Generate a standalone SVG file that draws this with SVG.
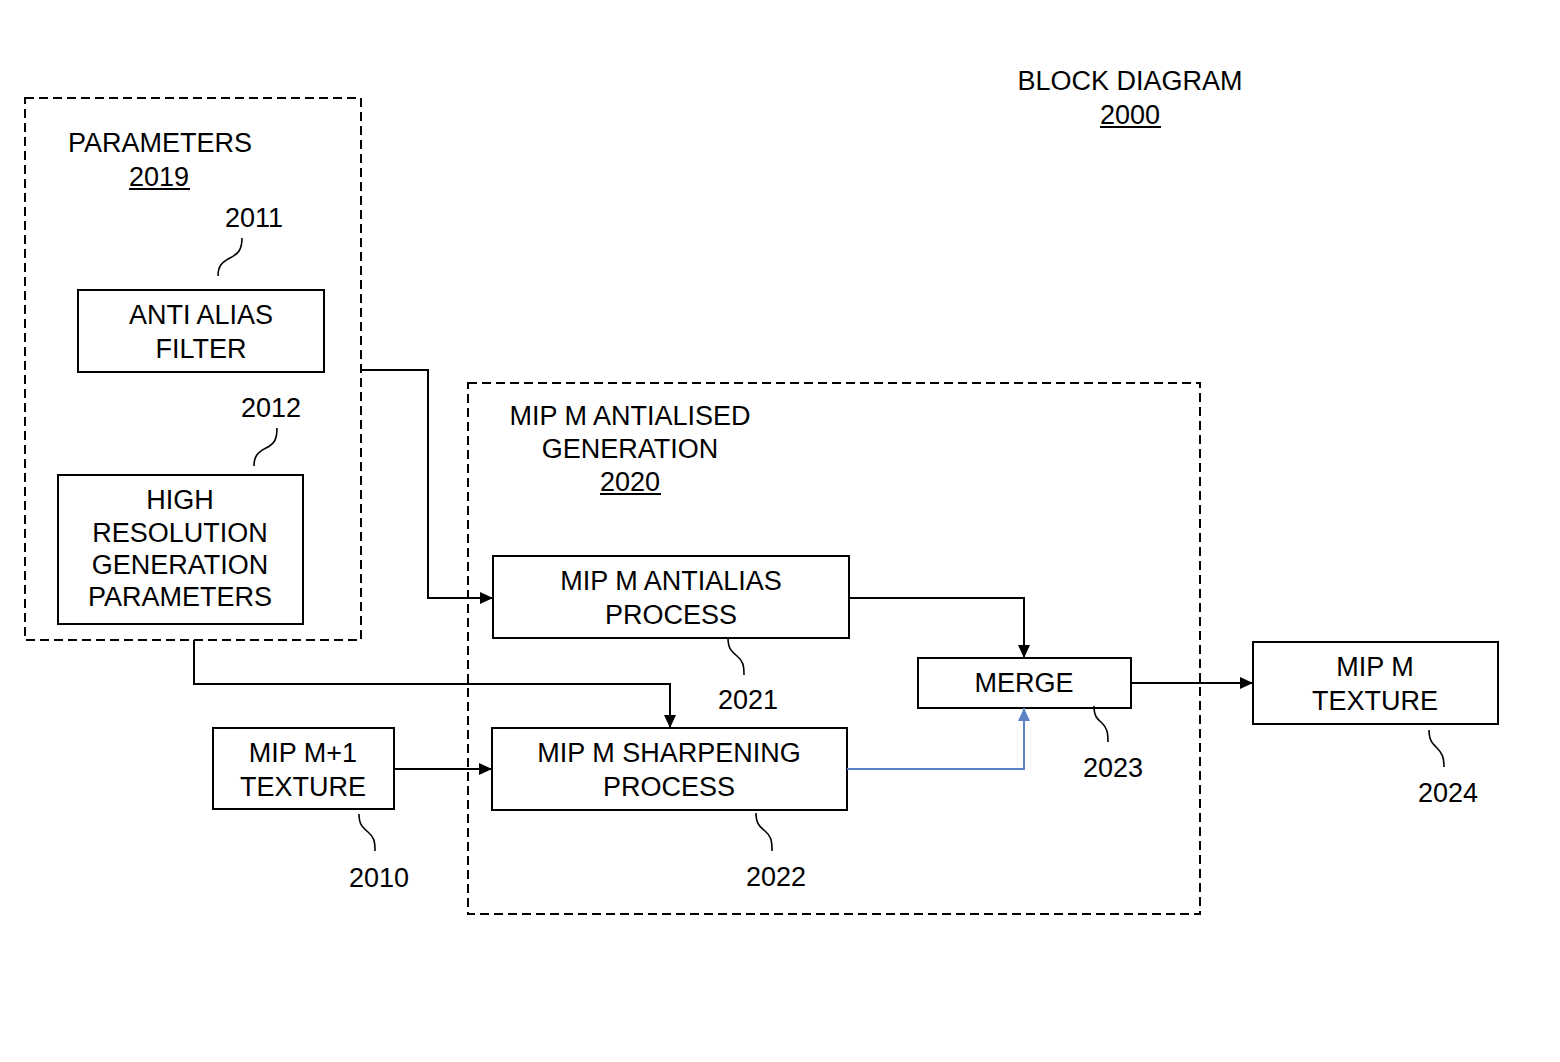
<svg xmlns="http://www.w3.org/2000/svg" width="1560" height="1062" viewBox="0 0 1560 1062">
<defs>
<style>
text{font-family:"Liberation Sans",Arial,sans-serif;font-size:27px;fill:#000;text-anchor:middle}
.box{fill:#fff;stroke:#000;stroke-width:2}
.dash{fill:none;stroke:#000;stroke-width:2;stroke-dasharray:9 5}
.wire{fill:none;stroke:#000;stroke-width:2}
.blue{fill:none;stroke:#5b82c4;stroke-width:2}
.sq{fill:none;stroke:#000;stroke-width:1.6}
.ul{stroke:#000;stroke-width:2}
</style>
<marker id="ah" markerWidth="13" markerHeight="12" refX="13" refY="6" orient="auto" markerUnits="userSpaceOnUse" viewBox="0 0 13 12"><path d="M0,0 L13,6 L0,12 Z" fill="#000"/></marker>
<marker id="ahb" markerWidth="13" markerHeight="12" refX="13" refY="6" orient="auto" markerUnits="userSpaceOnUse" viewBox="0 0 13 12"><path d="M0,0 L13,6 L0,12 Z" fill="#5b82c4"/></marker>
</defs>
<rect width="1560" height="1062" fill="#fff"/>

<g id="title">
<text x="1130" y="90">BLOCK DIAGRAM</text>
<text x="1130" y="124">2000</text>
<line class="ul" x1="1100" y1="127" x2="1161" y2="127"/>
</g>

<g id="parameters">
<rect class="dash" x="25" y="98" width="336" height="542"/>
<text x="160" y="152">PARAMETERS</text>
<text x="159" y="186">2019</text>
<line class="ul" x1="129" y1="189" x2="190" y2="189"/>
</g>

<g id="anti-alias-filter">
<rect class="box" x="78" y="290" width="246" height="82"/>
<text x="201" y="324">ANTI ALIAS</text>
<text x="201" y="358">FILTER</text>
<text x="254" y="227">2011</text>
<path class="sq" d="M218,276 C218,266 222,262 230,258 C238,254 242,250 242,238"/>
</g>

<g id="high-res-params">
<rect class="box" x="58" y="475" width="245" height="149"/>
<text x="180" y="509">HIGH</text>
<text x="180" y="542">RESOLUTION</text>
<text x="180" y="574">GENERATION</text>
<text x="180" y="606">PARAMETERS</text>
<text x="271" y="417">2012</text>
<path class="sq" d="M254,466 C254,456 258,452 266,448 C274,444 277,440 277,428"/>
</g>

<g id="antialised-generation">
<rect class="dash" x="468" y="383" width="732" height="531"/>
<text x="630" y="425">MIP M ANTIALISED</text>
<text x="630" y="458">GENERATION</text>
<text x="630" y="491">2020</text>
<line class="ul" x1="600" y1="494" x2="661" y2="494"/>
</g>

<g id="antialias-process">
<rect class="box" x="493" y="556" width="356" height="82"/>
<text x="671" y="590">MIP M ANTIALIAS</text>
<text x="671" y="624">PROCESS</text>
<text x="748" y="709">2021</text>
<path class="sq" d="M728,638 C728,648 731,651 737,656 C743,661 744,665 744,675"/>
</g>

<g id="sharpening-process">
<rect class="box" x="492" y="728" width="355" height="82"/>
<text x="669" y="762">MIP M SHARPENING</text>
<text x="669" y="796">PROCESS</text>
<text x="776" y="886">2022</text>
<path class="sq" d="M756,813 C756,823 759,826 765,831 C771,836 772,840 772,851"/>
</g>

<g id="mip-m1-texture">
<rect class="box" x="213" y="728" width="181" height="81"/>
<text x="303" y="762">MIP M+1</text>
<text x="303" y="796">TEXTURE</text>
<text x="379" y="887">2010</text>
<path class="sq" d="M359,814 C359,824 362,827 368,832 C374,837 375,841 375,851"/>
</g>

<g id="merge">
<rect class="box" x="918" y="658" width="213" height="50"/>
<text x="1024" y="692">MERGE</text>
<text x="1113" y="777">2023</text>
<path class="sq" d="M1094,706 C1094,716 1097,719 1102,723 C1107,728 1108,732 1108,742"/>
</g>

<g id="mip-m-texture">
<rect class="box" x="1253" y="642" width="245" height="82"/>
<text x="1375" y="676">MIP M</text>
<text x="1375" y="710">TEXTURE</text>
<text x="1448" y="802">2024</text>
<path class="sq" d="M1429,730 C1429,740 1432,743 1437,748 C1442,753 1444,757 1444,767"/>
</g>

<g id="connectors">
<path class="wire" d="M361,370 H428 V598 H493" marker-end="url(#ah)"/>
<path class="wire" d="M194,640 V684 H670 V728" marker-end="url(#ah)"/>
<path class="wire" d="M394,769 H492" marker-end="url(#ah)"/>
<path class="wire" d="M849,598 H1024 V658" marker-end="url(#ah)"/>
<path class="blue" d="M847,769 H1024 V708" marker-end="url(#ahb)"/>
<path class="wire" d="M1131,683 H1253" marker-end="url(#ah)"/>
</g>
</svg>
